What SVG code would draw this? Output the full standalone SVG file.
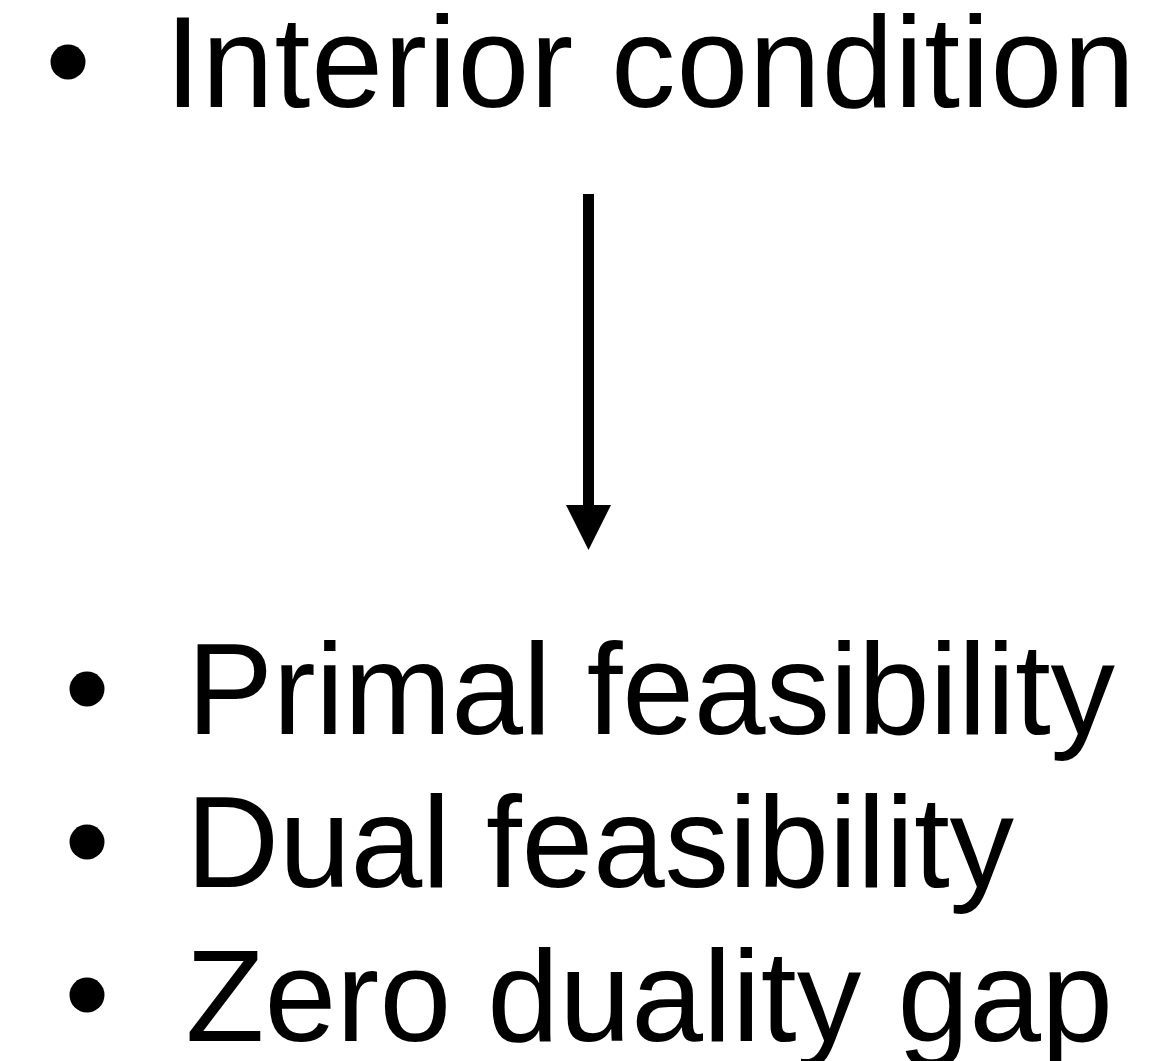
<svg xmlns="http://www.w3.org/2000/svg" width="1163" height="1061" viewBox="0 0 1163 1061">
<style>
  .t { font-family: "Liberation Sans", Arial, Helvetica, sans-serif; font-size: 129px; fill: #000; }
  .dot { fill: #000; }
</style>
<rect width="1163" height="1061" fill="#fff"/>
<g id="top">
  <circle class="dot" cx="68" cy="62" r="17.5"/>
  <text class="t" x="165" y="107" textLength="970" lengthAdjust="spacing">Interior condition</text>
</g>
<g id="connectors">
  <line x1="588.5" y1="194" x2="588.5" y2="507" stroke="#000" stroke-width="11"/>
  <path d="M566,505 L611,505 L588.5,550 Z" fill="#000"/>
</g>
<g id="bottom">
  <circle class="dot" cx="87" cy="689" r="17.5"/>
  <text class="t" x="187" y="734" textLength="928" lengthAdjust="spacing">Primal feasibility</text>
  <circle class="dot" cx="87" cy="842" r="17.5"/>
  <text class="t" x="186" y="887" textLength="828" lengthAdjust="spacing">Dual feasibility</text>
  <circle class="dot" cx="87" cy="995" r="17.5"/>
  <text class="t" x="185.4" y="1041" textLength="927.6" lengthAdjust="spacing">Zero duality gap</text>
</g>
</svg>
